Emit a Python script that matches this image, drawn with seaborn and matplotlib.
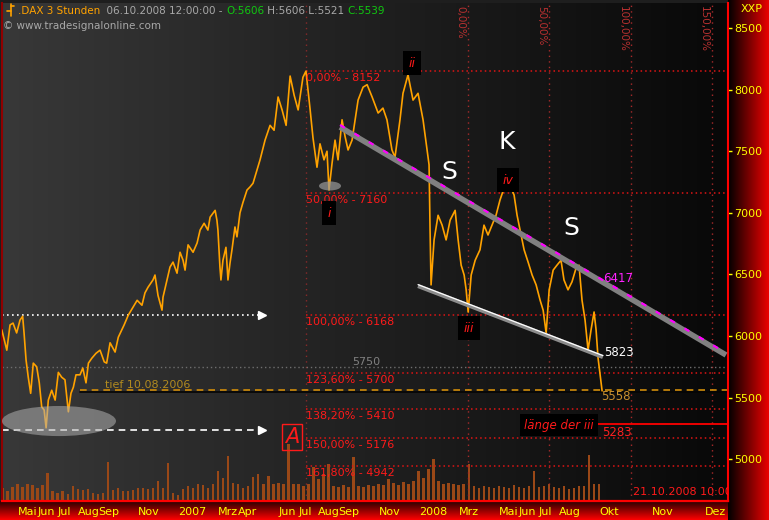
import numpy as np
import seaborn as sns
import matplotlib.pyplot as plt
from matplotlib import transforms
from matplotlib.patches import Ellipse
from matplotlib.lines import Line2D

# x values are months since Jan 2006 (4.0 = 1 May 2006)
price_t = [
    3.21, 3.37, 3.46, 3.62, 3.77, 3.95, 4.12, 4.25, 4.32, 4.42,
    4.53, 4.65, 4.78, 4.95, 5.08, 5.20, 5.32, 5.42, 5.53, 5.70,
    5.87, 6.03, 6.20, 6.36, 6.53, 6.66, 6.78, 6.91, 7.11, 7.25,
    7.41, 7.53, 7.70, 7.91, 8.11, 8.32, 8.44, 8.61, 8.86, 9.02,
    9.31, 9.52, 9.76, 9.96, 10.20, 10.35, 10.50, 10.75, 10.85, 11.00,
    11.20, 11.25, 11.45, 11.60, 11.75, 11.95, 12.10, 12.25, 12.35, 12.50,
    12.75, 12.95, 13.10, 13.30, 13.49, 13.60, 13.85, 13.94, 13.99, 14.09,
    14.14, 14.24, 14.39, 14.49, 14.59, 14.69, 14.84, 14.94, 15.09, 15.24,
    15.44, 15.59, 15.74, 16.09, 16.34, 16.59, 16.79, 16.99, 17.19, 17.39,
    17.59, 17.79, 17.99, 18.23, 18.38, 18.58, 18.73, 18.93, 19.08, 19.28,
    19.43, 19.53, 19.68, 19.83, 19.98, 20.18, 20.33, 20.48, 20.68, 20.98,
    21.23, 21.43, 21.68, 21.98, 22.22, 22.42, 22.67, 22.82, 23.07, 23.22,
    23.47, 23.72, 23.97, 24.22, 24.42, 24.52, 24.57, 24.62, 24.77, 24.97,
    25.17, 25.37, 25.57, 25.82, 25.97, 26.12, 26.27, 26.37, 26.47, 26.62,
    26.82, 27.06, 27.26, 27.46, 27.66, 27.86, 28.06, 28.26, 28.46, 28.61,
    28.76, 28.91, 29.06, 29.26, 29.46, 29.66, 29.86, 30.06, 30.21, 30.36,
    30.51, 30.71, 30.90, 31.10, 31.25, 31.45, 31.65, 31.85, 32.00, 32.15,
    32.30, 32.45, 32.60, 32.75, 32.85, 32.95, 33.05, 33.15]
price_v = [
    6050, 5945, 5885, 6090, 6105, 6025, 6130, 6160, 6025, 5805,
    5665, 5535, 5780, 5750, 5620, 5425, 5400, 5255, 5480, 5560,
    5480, 5705, 5665, 5645, 5385, 5535, 5585, 5685, 5685, 5740,
    5620, 5780, 5820, 5860, 5885, 5790, 5780, 5945, 5870, 5990,
    6090, 6170, 6235, 6290, 6250, 6350, 6395, 6455, 6495, 6330,
    6210, 6315, 6455, 6560, 6600, 6510, 6680, 6615, 6535, 6740,
    6680, 6755, 6860, 6915, 6860, 6965, 7020, 6940, 6860, 6560,
    6455, 6615, 6720, 6455, 6590, 6700, 6885, 6805, 7000, 7085,
    7185, 7210, 7240, 7430, 7590, 7710, 7670, 7940, 7835, 7710,
    8110, 7955, 7835, 8100, 8150, 7850, 7610, 7370, 7560, 7430,
    7500, 7185, 7400, 7590, 7430, 7755, 7620, 7510, 7590, 7915,
    8020, 8040, 7940, 7810, 7850, 7755, 7510, 7450, 7755, 7970,
    8120, 7915, 7970, 7755, 7510, 7390, 6860, 6415, 6780, 6980,
    6900, 6780, 6940, 7020, 6780, 6575, 6495, 6375, 6195, 6495,
    6615, 6700, 6900, 6820, 6900, 6980, 7105, 7200, 7250, 7200,
    7145, 6980, 6860, 6700, 6600, 6495, 6415, 6290, 6210, 6025,
    6375, 6535, 6575, 6615, 6455, 6375, 6440, 6550, 6575, 6290,
    6130, 5885, 6050, 6195, 6050, 5820, 5685, 5555]

# weekly volume (arbitrary units), first week at month 3.25
vol_start = 3.25
volume = [
    13, 10, 14, 17, 14, 17, 16, 13, 16, 28,
    10, 8, 10, 7, 15, 12, 11, 12, 8, 7,
    8, 39, 11, 13, 10, 10, 11, 13, 13, 12,
    13, 20, 13, 38, 8, 6, 12, 15, 13, 17,
    16, 13, 17, 30, 23, 45, 18, 17, 13, 15,
    24, 27, 17, 25, 17, 18, 17, 57, 17, 17,
    15, 17, 34, 22, 27, 37, 15, 14, 16, 14,
    44, 15, 14, 16, 15, 17, 16, 22, 18, 16,
    19, 17, 20, 30, 23, 32, 42, 20, 17, 18,
    17, 16, 17, 37, 15, 13, 15, 14, 13, 15,
    14, 13, 16, 14, 13, 15, 30, 14, 15, 17,
    14, 13, 15, 12, 13, 15, 15, 46, 17, 17]
vol_t = vol_start + 0.25 * np.arange(len(volume))

month_pos = [4, 5, 6, 7, 8, 10, 12, 14, 15, 17, 18, 19, 20, 22, 24, 26,
             28, 29, 30, 31, 33, 35.64, 38.28]
month_lbl = ["Mai", "Jun", "Jul", "Aug", "Sep", "Nov", "2007", "Mrz", "Apr",
             "Jun", "Jul", "Aug", "Sep", "Nov", "2008", "Mrz", "Mai", "Jun",
             "Jul", "Aug", "Okt", "Nov", "Dez"]

# price fibonacci levels
fib_pct = ["0,00%", "50,00%", "100,00%", "123,60%", "138,20%", "150,00%", "161,80%"]
fib_val = [8152, 7160, 6168, 5700, 5410, 5176, 4942]
fib_start = 18.38

# time fibonacci lines
time_pct = ["0,00%", "50,00%", "100,00%", "150,00%"]
time_t = [26.46, 30.50, 34.59, 38.63]

# trend channel
upper_t = [20.08, 39.33]
upper_v = [7696, 5846]
lower_t = [23.97, 33.19]
lower_v = [6406, 5830]

# elliott wave labels
wave_lbl = ["i", "ii", "iii", "iv"]
wave_t = [19.53, 23.67, 26.51, 28.46]
wave_v = [6998, 8216, 6065, 7266]

XMIN, XMAX = 3.22, 39.43
YMIN, YMAX = 4661, 8703

sns.set_style("dark")
plt.rcParams['font.family'] = ['DejaVu Sans']

W, H = 769, 520
fig = plt.figure(figsize=(W / 100, H / 100), dpi=100)
fig.patch.set_facecolor('#1e1e1e')

rect = [2 / W, 19 / H, 726 / W, 498 / H]

# background gradient
bg = fig.add_axes(rect, zorder=0)
g = np.linspace(56, 8, 256) / 255
bg.imshow(np.dstack([g, g, g]).reshape(1, 256, 3), aspect='auto', extent=[0, 1, 0, 1])
bg.axis('off')

# right panel and bottom strip
rp = fig.add_axes([728 / W, 0, 41 / W, 1], zorder=0)
r = np.linspace(0, 0.92, 128)
rp.imshow(np.dstack([r, r * 0, r * 0]), aspect='auto', extent=[0, 1, 0, 1])
rp.axis('off')
bp = fig.add_axes([0, 0, 728 / W, 19 / H], zorder=0)
b = np.linspace(0.15, 1.0, 64)
bp.imshow(np.dstack([b, b * 0, b * 0]).reshape(64, 1, 3), aspect='auto',
          extent=[0, 1, 0, 1])
bp.axis('off')

ax = fig.add_axes(rect, zorder=2)
axv = ax.twinx()
axv.set_zorder(1)
ax.patch.set_visible(False)
axv.patch.set_visible(False)

# volume
axv.bar(vol_t, volume, width=0.125, color='#9a4817', linewidth=0)
axv.set_ylim(0, 498)
axv.set_yticks([])
for s in axv.spines.values():
    s.set_visible(False)

# price
sns.lineplot(x=price_t, y=price_v, ax=ax, color='#ffa200', lw=1.2,
             sort=False, estimator=None, zorder=3)

ax.set_xlim(XMIN, XMAX)
ax.set_ylim(YMIN, YMAX)

dot = (0, (1, 2))

# price fib levels
for p, v in zip(fib_pct, fib_val):
    ax.plot([fib_start, XMAX], [v, v], color='#e01414', ls=dot, lw=1.1, zorder=2)
    ax.annotate(f"{p} - {v}", (fib_start, v), xytext=(0, -1.5),
                textcoords='offset points', va='top', ha='left',
                color='#ff1a1a', fontsize=8, zorder=4)

# time fib lines
ax.axvline(fib_start, color='#8a2a2a', ls=(0, (1, 3)), lw=1, zorder=2)
for p, t in zip(time_pct, time_t):
    ax.axvline(t, color='#a82a2a', ls=(0, (1, 3)), lw=1, zorder=2)
    ax.annotate(p, xy=(t, 1), xycoords=('data', 'axes fraction'),
                xytext=(-2, -2), textcoords='offset points', rotation=-90,
                ha='right', va='top', color='#b83030', fontsize=7.5)

# reference lines
ax.plot([XMIN, XMAX], [5750, 5750], color='#6e6e6e', ls=dot, lw=1, zorder=2)
ax.text(20.68, 5750, "5750", color='#808080', fontsize=8, va='bottom')

shadow = transforms.offset_copy(ax.transData, fig=fig, y=-1.3, units='points')
ax.plot([7.11, XMAX], [5558, 5558], color='#050505', lw=1.2, transform=shadow, zorder=2)
ax.plot([7.11, XMAX], [5558, 5558], color='#d08c0a', ls=(0, (4, 3)), lw=1.2, zorder=2)
ax.annotate("tief 10.08.2006", (8.36, 5558), xytext=(0, 0.5), textcoords='offset points',
            color='#b08a20', fontsize=8, va='bottom')

ax.plot([XMIN, 16.09], [6168, 6168], color='white', ls=dot, lw=1.2, zorder=2)
ax.plot([16.2], [6168], marker='>', color='white', ms=6, zorder=2)
ax.plot([XMIN, 16.09], [5240, 5240], color='white', ls=(0, (4, 3)), lw=1.2, zorder=2)
ax.plot([16.2], [5240], marker='>', color='white', ms=6, zorder=2)

# highlight ellipses
ax.add_patch(Ellipse((6.06, 5310), 5.69, 244, fc='#b0b0b0', ec='none', alpha=0.55, zorder=4))
ax.add_patch(Ellipse((19.58, 7218), 1.10, 73, fc='#9a9a9a', ec='none', alpha=0.7, zorder=4))
ax.add_patch(Ellipse((28.46, 7234), 1.10, 73, fc='#9a9a9a', ec='none', alpha=0.7, zorder=4))

# trend channel
up_off = transforms.offset_copy(ax.transData, fig=fig, y=1.5, units='points')
ax.plot(upper_t, upper_v, color='#808080', lw=4, solid_capstyle='butt', zorder=5)
ax.plot(upper_t, upper_v, color='#ff00ff', lw=1.6, ls=(0, (2.5, 5)),
        transform=up_off, zorder=6)
lo_off = transforms.offset_copy(ax.transData, fig=fig, y=1.0, units='points')
ax.plot(lower_t, lower_v, color='#8c8c8c', lw=3, solid_capstyle='butt', zorder=5)
ax.plot(lower_t, lower_v, color='white', lw=0.9, transform=lo_off, zorder=6)

# value labels
ax.text(33.2, 6470, "6417", color='#ff22ff', fontsize=8.5, va='center', zorder=7)
ax.text(33.25, 5870, "5823", color='white', fontsize=8.5, va='center', zorder=7)
ax.text(33.1, 5508, "5558", color='#c89030', fontsize=8.5, va='center', zorder=7)
ax.text(33.15, 5221, "5283", color='#ff2020', fontsize=8.5, va='center', zorder=7)
ax.plot([32.90, XMAX], [5283, 5283], color='#ff0000', lw=1.3, zorder=3)
ax.text(31.0, 5277, "länge der iii", color='#ff1a1a', style='italic', fontsize=8.5,
        ha='center', va='center', zorder=7,
        bbox=dict(fc='black', ec='none', pad=3))

# wave / pattern labels
for lbl, t, v in zip(wave_lbl, wave_t, wave_v):
    ax.text(t, v, lbl, color='#ff1a1a', style='italic', fontsize=9,
            ha='center', va='center', zorder=7,
            bbox=dict(fc='black', ec='none', pad=4))
ax.text(25.51, 7331, "S", color='white', fontsize=18, ha='center', va='center', zorder=7)
ax.text(31.6, 6877, "S", color='white', fontsize=18, ha='center', va='center', zorder=7)
ax.text(28.41, 7575, "K", color='white', fontsize=18, ha='center', va='center', zorder=7)
ax.text(17.68, 5180, "A", color='#ff1a1a', style='italic', fontsize=15,
        ha='center', va='center', zorder=7,
        bbox=dict(fc='none', ec='#ff1a1a', lw=1, pad=2))
ax.text(34.69, 4734, "21.10.2008 10:00:00", color='#ff1a1a', fontsize=8,
        va='center', clip_on=True, zorder=7)

# axes styling
ax.yaxis.tick_right()
ax.set_yticks(range(5000, 8501, 500))
ax.tick_params(axis='y', colors='#ffff00', length=3, width=1, pad=1.5,
               labelsize=8, left=False, right=True)
ax.set_xticks(month_pos, month_lbl)
ax.tick_params(axis='x', colors='#ffff00', length=3, width=1, pad=1,
               labelsize=8)
for lbl in ax.get_xticklabels():
    lbl.set_horizontalalignment('left')
ax.set_xlabel('')
ax.set_ylabel('')
ax.spines['top'].set_visible(False)
ax.spines['left'].set_color('#900000')
ax.spines['left'].set_linewidth(1.5)
ax.spines['right'].set_color('#ff0000')
ax.spines['right'].set_linewidth(1.5)
ax.spines['bottom'].set_color('#ff0000')
ax.spines['bottom'].set_linewidth(1.6)
ax.grid(False)


# header
def fx(px):
    return px / W


def fy(py):
    return 1 - py / H


# small OHLC icon
for seg in [[(7, 11), (11, 11)], [(11, 4), (11, 16)], [(11, 6), (14, 6)]]:
    fig.add_artist(Line2D([fx(seg[0][0]), fx(seg[1][0])],
                          [fy(seg[0][1]), fy(seg[1][1])],
                          color='#ffa200', lw=1.2, zorder=10))

parts = [(".DAX 3 Stunden", '#ffa200'), ("  06.10.2008 12:00:00 - ", '#a8a8a8'),
         ("O:5606", '#10c810'), (" H:5606 L:5521 ", '#a8a8a8'),
         ("C:5539", '#10c810')]
prev = fig.text(fx(18), fy(16), parts[0][0], color=parts[0][1], fontsize=7.5,
                va='bottom', zorder=10)
for s, c in parts[1:]:
    prev = ax.annotate(s, xy=(1, 0), xycoords=prev, va='bottom', ha='left',
                       color=c, fontsize=7.5, annotation_clip=False, zorder=10)

fig.text(fx(3), fy(26), "© www.tradesignalonline.com", color='#a8a8a8',
         fontsize=7.5, va='center', zorder=10)
fig.text(fx(741), fy(9), "XXP", color='#ffff00', fontsize=8, va='center', zorder=10)

fig.savefig('out.png', dpi=100, facecolor=fig.get_facecolor())
